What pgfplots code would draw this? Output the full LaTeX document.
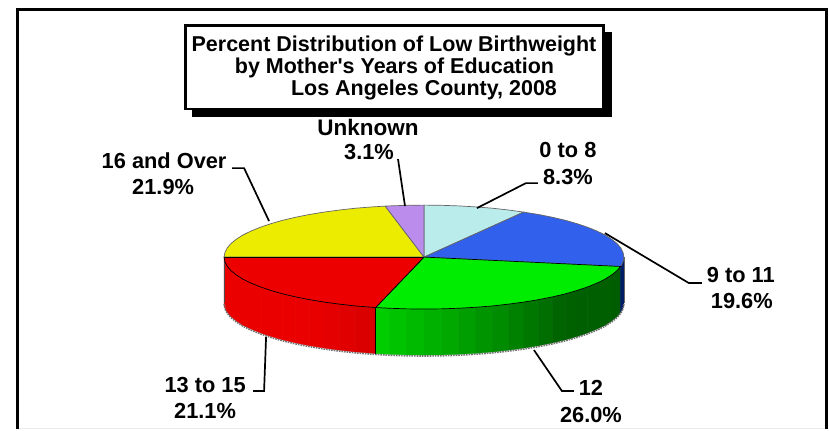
\documentclass[border=0pt]{standalone}
\usepackage{fontspec}
\setmainfont{Liberation Sans}
\newfontfamily\apf[Mapping=none]{Liberation Sans}
\usepackage{pgfplots}
\pgfplotsset{compat=1.18}
\definecolor{cLB}{RGB}{187,236,236}
\definecolor{cBL}{RGB}{48,96,236}
\definecolor{cGR}{RGB}{0,236,0}
\definecolor{cRD}{RGB}{236,0,0}
\definecolor{cYL}{RGB}{236,236,0}
\definecolor{cPU}{RGB}{187,140,236}
\definecolor{cNV}{RGB}{0,28,100}
\newcommand{\gwall}[7]{\edef\tmpc{\noexpand\addplot[fill={rgb,255:red,0;green,#1;blue,0},draw={rgb,255:red,0;green,#1;blue,0},line width=.5pt,forget plot] coordinates {(#2,#3)(#5,#6)(#5,#7)(#2,#4)} --cycle;}\tmpc}
\newcommand{\rwall}[7]{\edef\tmpc{\noexpand\addplot[fill={rgb,255:red,#1;green,0;blue,0},draw={rgb,255:red,#1;green,0;blue,0},line width=.5pt,forget plot] coordinates {(#2,#3)(#5,#6)(#5,#7)(#2,#4)} --cycle;}\tmpc}
\newcommand{\lab}[3]{\node[anchor=center,inner sep=0pt,font=\fontsize{21.8}{24}\selectfont\bfseries] at (axis cs:#1,#2) {#3};}
\newcommand{\ttl}[3]{\node[anchor=base,inner sep=0pt,font=\fontsize{21.5}{24}\selectfont\bfseries] at (axis cs:#1,#2) {#3};}
\begin{document}
\begin{tikzpicture}[x=1pt,y=1pt]
\begin{axis}[scale only axis,width=829pt,height=430pt,xmin=0,xmax=829,ymin=0,ymax=430,y dir=reverse,hide axis,clip=false,anchor=south west,at={(0,0)}]
% canvas corners and frame
\addplot[draw=white,fill=white,forget plot] coordinates {(0,0)(829,0)(829,430)(0,430)} --cycle;
\addplot[draw=black!8,line width=1pt,forget plot] coordinates {(17,429)(827,429)};
\addplot[draw=black,line width=2.8pt,forget plot] coordinates {(17,429)(17,9.7)(827,9.7)(827,429)};
% title box
\addplot[fill=black,draw=black,forget plot] coordinates {(192,32)(611,32)(611,116)(192,116)} --cycle;
\addplot[fill=white,draw=black,line width=2.6pt,forget plot] coordinates {(185.5,25.5)(603.8,25.5)(603.8,109)(185.5,109)} --cycle;
% walls: red
\rwall{235}{224}{257}{303}{224.8}{261.5}{307.5}
\rwall{235}{224.8}{261.5}{307.5}{227}{266}{312}
\rwall{235}{227}{266}{312}{230.8}{270.5}{316.5}
\rwall{235}{230.8}{270.5}{316.5}{236.1}{274.8}{320.8}
\rwall{235}{236.1}{274.8}{320.8}{242.7}{279}{325}
\rwall{235}{242.7}{279}{325}{250.8}{283}{329}
\rwall{235}{250.8}{283}{329}{260.2}{286.8}{332.8}
\rwall{235}{260.2}{286.8}{332.8}{270.8}{290.4}{336.4}
\rwall{235}{270.8}{290.4}{336.4}{282.6}{293.8}{339.8}
\rwall{235}{282.6}{293.8}{339.8}{295.4}{296.8}{342.8}
\rwall{234}{295.4}{296.8}{342.8}{309.3}{299.6}{345.6}
\rwall{232}{309.3}{299.6}{345.6}{324}{302}{348}
\rwall{228}{324}{302}{348}{339.5}{304.1}{350.1}
\rwall{224}{339.5}{304.1}{350.1}{355.6}{305.9}{351.9}
\rwall{219}{355.6}{305.9}{351.9}{372.2}{307.2}{353.2}
\rwall{215}{372.2}{307.2}{353.2}{375.6}{307.5}{353.5}
% walls: green
\gwall{205}{375.6}{307.5}{353.5}{389.3}{308.2}{354.2}
\gwall{195}{389.3}{308.2}{354.2}{406.6}{308.8}{354.8}
\gwall{186}{406.6}{308.8}{354.8}{424}{309}{355}
\gwall{177}{424}{309}{355}{441.4}{308.8}{354.8}
\gwall{168}{441.4}{308.8}{354.8}{458.7}{308.2}{354.2}
\gwall{158}{458.7}{308.2}{354.2}{475.8}{307.2}{353.2}
\gwall{149}{475.8}{307.2}{353.2}{492.4}{305.9}{351.9}
\gwall{140}{492.4}{305.9}{351.9}{508.5}{304.1}{350.1}
\gwall{130}{508.5}{304.1}{350.1}{524}{302}{348}
\gwall{120}{524}{302}{348}{538.7}{299.6}{345.6}
\gwall{110}{538.7}{299.6}{345.6}{552.6}{296.8}{342.8}
\gwall{100}{552.6}{296.8}{342.8}{565.4}{293.8}{339.8}
\gwall{97}{565.4}{293.8}{339.8}{577.2}{290.4}{336.4}
\gwall{95}{577.2}{290.4}{336.4}{587.8}{286.8}{332.8}
\gwall{95}{587.8}{286.8}{332.8}{597.2}{283}{329}
\gwall{95}{597.2}{283}{329}{605.3}{279}{325}
\gwall{95}{605.3}{279}{325}{611.9}{274.8}{320.8}
\gwall{92}{611.9}{274.8}{320.8}{617.2}{270.5}{316.5}
\gwall{92}{617.2}{270.5}{316.5}{620.7}{266.4}{312.4}
% wall: navy sliver
\addplot[fill=cNV,draw=cNV,forget plot] coordinates {(620.7,266.4)(623.2,261.5)(624,257)(624,303)(623.2,307.5)(620.7,312.4)} --cycle;
% bottom shadow edge
\addplot[draw=black!55,line width=1.6pt,densely dotted,forget plot] coordinates {(224,304)(224.8,308.5)(227,313)(230.8,317.5)(236.1,321.8)(242.7,326)(250.8,330)(260.2,333.8)(270.8,337.4)(282.6,340.8)(295.4,343.8)(309.3,346.6)(324,349)(339.5,351.1)(355.6,352.9)(372.2,354.2)(389.3,355.2)(406.6,355.8)(424,356)(441.4,355.8)(458.7,355.2)(475.8,354.2)(492.4,352.9)(508.5,351.1)(524,349)(538.7,346.6)(552.6,343.8)(565.4,340.8)(577.2,337.4)(587.8,333.8)(597.2,330)(605.3,326)(611.9,321.8)(617.2,317.5)(621,313)(623.2,308.5)(624,304)};
\addplot[draw=black,line width=.6pt,forget plot] coordinates {(375.6,307.5)(375.6,353.5)};
\addplot[draw=black!70,line width=.6pt,forget plot] coordinates {(224,257)(224,303)};
\addplot[draw=black!60,line width=.6pt,forget plot] coordinates {(624,257)(624,303)};
% top slices
\addplot[fill=cLB,draw=black!60,line width=.7pt,forget plot] coordinates {(424,257)(424,205)(441.4,205.2)(458.7,205.8)(475.8,206.8)(492.4,208.1)(508.5,209.9)(523.7,212)} --cycle;
\addplot[fill=cBL,draw=black!60,line width=.7pt,forget plot] coordinates {(424,257)(523.7,212)(538.7,214.4)(552.6,217.2)(565.4,220.2)(577.2,223.6)(587.8,227.2)(597.2,231)(605.3,235)(611.9,239.2)(617.2,243.5)(621,248)(623.2,252.5)(624,257)(623.2,261.5)(620.7,266.4)} --cycle;
\addplot[fill=cGR,draw=black,line width=.7pt,forget plot] coordinates {(424,257)(620.7,266.4)(617.2,270.5)(611.9,274.8)(605.3,279)(597.2,283)(587.8,286.8)(577.2,290.4)(565.4,293.8)(552.6,296.8)(538.7,299.6)(524,302)(508.5,304.1)(492.4,305.9)(475.8,307.2)(458.7,308.2)(441.4,308.8)(424,309)(406.6,308.8)(389.3,308.2)(375.6,307.5)} --cycle;
\addplot[fill=cRD,draw=black,line width=.7pt,forget plot] coordinates {(424,257)(375.6,307.5)(372.2,307.2)(355.6,305.9)(339.5,304.1)(324,302)(309.3,299.6)(295.4,296.8)(282.6,293.8)(270.8,290.4)(260.2,286.8)(250.8,283)(242.7,279)(236.1,274.8)(230.8,270.5)(227,266)(224.8,261.5)(224,257)} --cycle;
\addplot[fill=cYL,draw=black!60,line width=.7pt,forget plot] coordinates {(424,257)(224,257)(224.8,252.5)(227,248)(230.8,243.5)(236.1,239.2)(242.7,235)(250.8,231)(260.2,227.2)(270.8,223.6)(282.6,220.2)(295.4,217.2)(309.3,214.4)(324,212)(339.5,209.9)(355.6,208.1)(372.2,206.8)(385.2,206)} --cycle;
\addplot[fill=cPU,draw=black!60,line width=.7pt,forget plot] coordinates {(424,257)(385.2,206)(389.3,205.8)(406.6,205.2)(424,205)} --cycle;
\addplot[draw=black,line width=.8pt,forget plot] coordinates {(424,257)(224,257)};
% leader lines
\addplot[draw=black,line width=1.7pt,forget plot] coordinates {(232,168)(244,168)(269,221)};
\addplot[draw=black,line width=1.7pt,forget plot] coordinates {(398,159)(405,206)};
\addplot[draw=black,line width=1.7pt,forget plot] coordinates {(538,183)(526,183)(477,208)};
\addplot[draw=black,line width=1.7pt,forget plot] coordinates {(702,283)(689,283)(605,233)};
\addplot[draw=black,line width=1.7pt,forget plot] coordinates {(253,391)(264,391)(266,337)};
\addplot[draw=black,line width=1.7pt,forget plot] coordinates {(574,391)(562,391)(534,350)};
% title
\ttl{394}{51}{Percent Distribution of Low Birthweight}
\ttl{394.5}{73}{by Mother{\apf\bfseries '}s Years of Education}
\ttl{424}{95}{Los Angeles County, 2008}
% labels
\node[anchor=center,inner sep=0pt,font=\fontsize{22.5}{24}\selectfont\bfseries] at (axis cs:368,127) {Unknown};
\lab{369}{152}{3.1\%}
\lab{164}{161}{16 and Over}
\lab{163}{187}{21.9\%}
\lab{568}{150}{0 to 8}
\lab{568}{177}{8.3\%}
\lab{741}{275}{9 to 11}
\lab{742}{301}{19.6\%}
\lab{205}{385}{13 to 15}
\lab{205}{411}{21.1\%}
\lab{591}{388}{12}
\lab{591}{415}{26.0\%}
\end{axis}
\end{tikzpicture}
\end{document}
